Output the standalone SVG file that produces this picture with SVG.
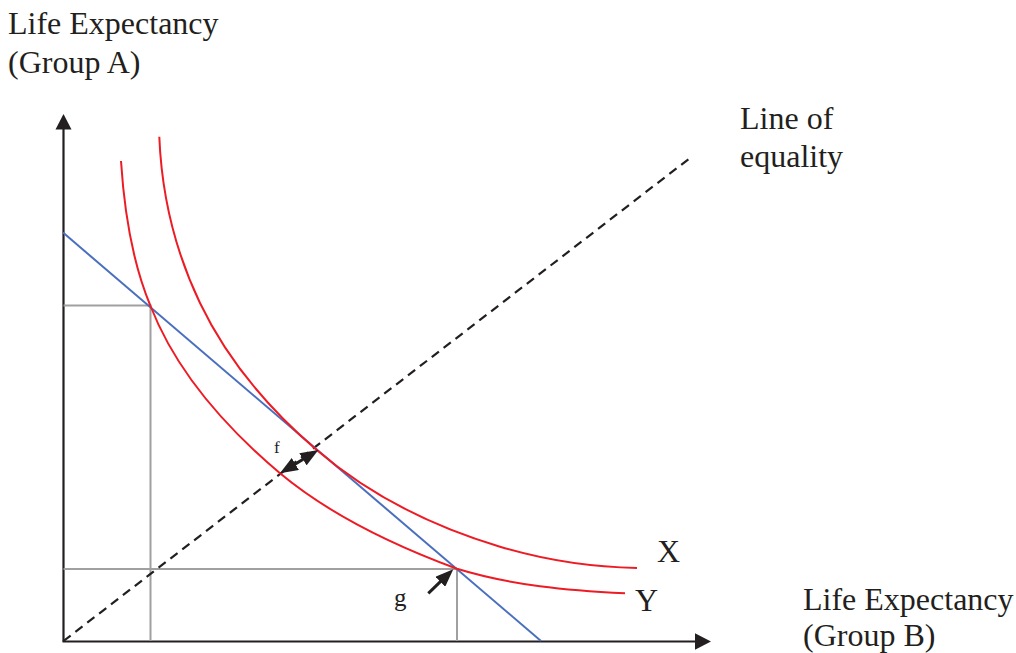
<svg xmlns="http://www.w3.org/2000/svg" width="1016" height="653" viewBox="0 0 1016 653">
<style>
text{font-family:"Liberation Serif","Times New Roman",serif;fill:#231f20}
.lbl{font-size:32px}
.axis{stroke:#231f20;stroke-width:2.2;fill:none}
.head{fill:#231f20;stroke:none}
.guide{stroke:#a0a0a0;stroke-width:2;fill:none}
.curve{stroke:#ed1c24;stroke-width:2;fill:none}
.budget{stroke:#4a6fbf;stroke-width:2;fill:none}
.eq{stroke:#231f20;stroke-width:2.2;stroke-dasharray:9 6;fill:none}
.pt{stroke:#231f20;stroke-width:3;fill:none}
</style>
<defs>
<marker id="ah" viewBox="0 0 18 14" refX="8" refY="7" markerWidth="18" markerHeight="14" markerUnits="userSpaceOnUse" orient="auto-start-reverse">
<path d="M0,0 L18,7 L0,14 z" fill="#231f20"/>
</marker>
</defs>
<rect width="1016" height="653" fill="#ffffff"/>
<g id="axes">
<line class="axis" x1="63.5" y1="641.5" x2="63.5" y2="128"/>
<polygon class="head" points="63.5,114 55.5,129.5 71.5,129.5"/>
<line class="axis" x1="62.5" y1="641.5" x2="697" y2="641.5"/>
<polygon class="head" points="711,641.5 695,633.2 695,649.8"/>
</g>
<g id="guides">
<polyline class="guide" points="63.5,305.5 150.5,305.5 150.5,641"/>
<polyline class="guide" points="63.5,569 457,569 457,641"/>
</g>
<g id="line-of-equality">
<line class="eq" x1="63.5" y1="641" x2="690" y2="158"/>
</g>
<g id="budget-line">
<line class="budget" x1="63" y1="232.6" x2="541" y2="641"/>
</g>
<g id="curve-Y">
<path class="curve" d="M121,161 C124.2,211 131.4,260.3 150.5,306 C176,371.7 226.4,428 280,473.3 C331.3,516.1 393.6,545.4 457,568.8 C511,585.4 568,590.5 625,593.3"/>
</g>
<g id="curve-X">
<path class="curve" d="M159.3,136.7 C161.6,193.7 175.4,251.6 200,303 C227,359.5 269.2,409.2 316.7,450 C369.1,494.9 433.9,526.9 500,546.7 C544.1,559.9 591,567.1 637,568"/>
</g>
<g id="connectors">
<line class="pt" x1="288.5" y1="468.1" x2="309.8" y2="455.2" marker-start="url(#ah)" marker-end="url(#ah)"/>
<line class="pt" x1="428.3" y1="593.3" x2="446.1" y2="576.2" marker-end="url(#ah)"/>
</g>
<g id="labels">
<text class="lbl" x="8" y="34">Life Expectancy</text>
<text class="lbl" x="8" y="73">(Group A)</text>
<text class="lbl" x="740" y="129">Line of</text>
<text class="lbl" x="740" y="167">equality</text>
<text class="lbl" x="803" y="610">Life Expectancy</text>
<text class="lbl" x="803" y="646">(Group B)</text>
<text class="lbl" x="657" y="562">X</text>
<text class="lbl" x="635" y="611">Y</text>
<text x="274" y="453" style="font-size:17px">f</text>
<text x="394" y="606" style="font-size:25px">g</text>
</g>
</svg>
